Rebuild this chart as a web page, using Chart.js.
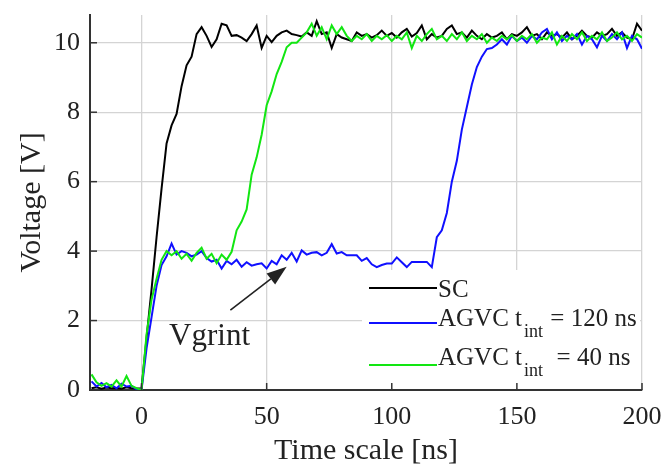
<!DOCTYPE html>
<html>
<head>
<meta charset="utf-8">
<script src="https://cdn.jsdelivr.net/npm/chart.js@4.4.1/dist/chart.umd.min.js"></script>
<style>
  html, body { margin: 0; padding: 0; background: #fff; }
</style>
</head>
<body>
<canvas id="grafico" width="665" height="469"></canvas>
<script>
// Tempo em ns (passo de 2 ns)
const tempo = [
  -20, -18, -16, -14, -12, -10, -8, -6, -4, -2,
  0, 2, 4, 6, 8, 10, 12, 14, 16, 18,
  20, 22, 24, 26, 28, 30, 32, 34, 36, 38,
  40, 42, 44, 46, 48, 50, 52, 54, 56, 58,
  60, 62, 64, 66, 68, 70, 72, 74, 76, 78,
  80, 82, 84, 86, 88, 90, 92, 94, 96, 98,
  100, 102, 104, 106, 108, 110, 112, 114, 116, 118,
  120, 122, 124, 126, 128, 130, 132, 134, 136, 138,
  140, 142, 144, 146, 148, 150, 152, 154, 156, 158,
  160, 162, 164, 166, 168, 170, 172, 174, 176, 178,
  180, 182, 184, 186, 188, 190, 192, 194, 196, 198,
  200
];

// Tensões [V]
const sc = [
  0.05, 0.08, 0.04, 0.07, 0.05, 0.06, 0.04, 0.08, 0.05, 0.04,
  0.05, 1.5, 2.9, 4.4, 5.8, 7.1, 7.62, 7.95, 8.75, 9.35,
  9.6, 10.25, 10.45, 10.2, 9.88, 10.1, 10.55, 10.5, 10.2, 10.22,
  10.15, 10.05, 10.25, 10.5, 9.85, 10.2, 10.02, 10.2, 10.3, 10.35,
  10.25, 10.22, 10.18, 10.3, 10.2, 10.62, 10.25, 10.3, 9.85, 10.25,
  10.15, 10.1, 10.05, 10.3, 10.2, 10.25, 10.15, 10.22, 10.35, 10.2,
  10.28, 10.15, 10.3, 10.4, 10.18, 10.28, 10.5, 10.1, 10.25, 10.15,
  10.2, 10.4, 10.5, 10.25, 10.3, 10.15, 10.35, 10.2, 10.1, 10.25,
  10.15, 10.2, 10.3, 10.1, 10.25, 10.2, 10.3, 10.45, 10.2, 10.25,
  10.1, 10.3, 10.2, 10.25, 10.15, 10.3, 10.1, 10.2, 10.35, 10.2,
  10.15, 10.3, 10.2, 10.25, 10.4, 10.2, 10.3, 10.15, 10.1, 10.55,
  10.35
];

const agvc120 = [
  0.25, 0.1, 0.2, 0.08, 0.15, 0.05, 0.18, 0.1, 0.12, 0.02,
  0.0, 1.2, 2.1, 3.0, 3.6, 3.85, 4.22, 3.9, 4.0, 3.95,
  3.85, 3.9, 4.0, 3.8, 3.7, 3.75, 3.5, 3.72, 3.62, 3.75,
  3.55, 3.68, 3.58, 3.62, 3.65, 3.5, 3.72, 3.62, 3.88, 3.75,
  3.95, 3.7, 4.02, 3.9, 3.95, 3.97, 3.88, 3.95, 4.2, 3.93,
  3.97, 3.88, 3.88, 3.88, 3.72, 3.8, 3.62, 3.54, 3.6, 3.64,
  3.64, 3.82, 3.68, 3.54, 3.69, 3.69, 3.69, 3.69, 3.54, 4.4,
  4.6, 5.1, 6.0, 6.6, 7.5, 8.15, 8.8, 9.3, 9.6, 9.82,
  9.85, 9.95, 10.1, 9.95, 10.2, 10.05, 10.15, 10.0, 10.2, 10.1,
  10.3, 10.4, 10.1, 10.3, 10.05, 10.2, 10.1, 10.25, 9.95, 10.2,
  10.1, 9.87, 10.2, 10.05, 10.25, 10.1, 10.3, 9.85, 10.2, 10.1,
  9.83
];

const agvc40 = [
  0.45, 0.22, 0.12, 0.2, 0.1, 0.28, 0.1, 0.4, 0.12, 0.05,
  0.0, 1.6, 2.6, 3.2, 3.75, 4.0, 3.88, 4.0, 3.78, 3.92,
  3.72, 3.95, 4.1, 3.78, 3.92, 3.65, 3.9, 3.75, 3.98, 4.6,
  4.85, 5.2, 6.2, 6.7, 7.35, 8.2, 8.6, 9.1, 9.45, 9.87,
  10.0, 10.0, 10.15, 10.3, 10.55, 10.2, 10.45, 10.1, 10.5, 10.25,
  10.45, 10.2, 10.05, 10.2, 10.1, 10.25, 10.05, 10.2, 10.1, 10.22,
  10.05, 10.2, 10.1, 10.3, 9.85, 10.2, 10.05, 10.25, 10.4, 10.1,
  10.2, 10.05, 10.25, 10.1, 10.3, 10.05, 10.2, 10.1, 10.25, 10.0,
  10.15, 10.05, 10.2, 10.1, 10.22, 10.05, 10.2, 10.1, 10.25, 10.0,
  10.15, 10.1, 10.3, 9.95, 10.2, 10.05, 10.25, 10.1, 10.3, 10.05,
  10.2, 10.1, 10.3, 10.05, 10.15, 10.3, 10.1, 10.2, 10.05, 10.25,
  10.15
];

const nomes = ['SC', 'AGVC t_{int} = 120 ns', 'AGVC t_{int}  = 40 ns'];
const ticksX = [0, 50, 100, 150, 200];
const ticksY = [0, 2, 4, 6, 8, 10];

const cores = ['#000000', '#1010ff', '#12e612'];
const serif = '"Liberation Serif", "Times New Roman", serif';
const corTexto = '#222222';

const pares = vals => tempo.map((t, i) => ({ x: t, y: vals[i] }));

// Marcas internas, legenda com subscrito e a seta "Vgrint"
const moldura = {
    id: 'moldura',
    afterDatasetsDraw(chart) {
        const { ctx, chartArea: a, scales: { x, y } } = chart;
        ctx.save();

        // caixa da legenda
        const bx = a.right - 280, by = a.bottom - 120;
        ctx.fillStyle = '#ffffff';
        ctx.fillRect(bx, by, a.right - 2 - bx, a.bottom - 2 - by);
        const linhaY = [a.bottom - 102, a.bottom - 67, a.bottom - 25];
        const textoY = [a.bottom - 100, a.bottom - 71, a.bottom - 32];
        nomes.forEach((nome, i) => {
            ctx.strokeStyle = cores[i];
            ctx.lineWidth = 2;
            ctx.beginPath();
            ctx.moveTo(bx + 7, linhaY[i]);
            ctx.lineTo(bx + 75, linhaY[i]);
            ctx.stroke();

            ctx.fillStyle = corTexto;
            ctx.textAlign = 'left';
            ctx.textBaseline = 'middle';
            ctx.font = `25px ${serif}`;
            let tx = bx + 76;
            const m = nome.match(/^(.*)_\{(.*?)\}(.*)$/);
            if (!m) {
                ctx.fillText(nome, tx, textoY[i]);
                return;
            }
            ctx.fillText(m[1], tx, textoY[i]);
            tx += ctx.measureText(m[1]).width + 2;
            ctx.font = `18px ${serif}`;
            ctx.fillText(m[2], tx, textoY[i] + 13);
            tx += ctx.measureText(m[2]).width + 1;
            ctx.font = `25px ${serif}`;
            ctx.fillText(m[3], tx, textoY[i]);
        });

        // marcas dos eixos para dentro
        ctx.strokeStyle = '#333';
        ctx.lineWidth = 1.5;
        ticksX.forEach(v => {
            const px = x.getPixelForValue(v);
            ctx.beginPath();
            ctx.moveTo(px, a.bottom);
            ctx.lineTo(px, a.bottom - 7);
            ctx.stroke();
        });
        ticksY.forEach(v => {
            const py = y.getPixelForValue(v);
            ctx.beginPath();
            ctx.moveTo(a.left, py);
            ctx.lineTo(a.left + 7, py);
            ctx.stroke();
        });

        // anotação
        ctx.fillStyle = corTexto;
        ctx.font = `31px ${serif}`;
        ctx.textAlign = 'left';
        ctx.textBaseline = 'alphabetic';
        ctx.fillText('Vgrint', x.getPixelForValue(11), y.getPixelForValue(1.3));

        const x0 = x.getPixelForValue(35.5), y0 = y.getPixelForValue(2.3);
        const x1 = x.getPixelForValue(58), y1 = y.getPixelForValue(3.55);
        const ang = Math.atan2(y1 - y0, x1 - x0);
        const cab = 20, larg = 7;
        const xb = x1 - cab * Math.cos(ang), yb = y1 - cab * Math.sin(ang);
        ctx.strokeStyle = corTexto;
        ctx.lineWidth = 1.6;
        ctx.beginPath();
        ctx.moveTo(x0, y0);
        ctx.lineTo(xb, yb);
        ctx.stroke();
        ctx.beginPath();
        ctx.moveTo(x1, y1);
        ctx.lineTo(xb - larg * Math.sin(ang), yb + larg * Math.cos(ang));
        ctx.lineTo(xb + larg * Math.sin(ang), yb - larg * Math.cos(ang));
        ctx.closePath();
        ctx.fill();

        ctx.restore();
    }
};

new Chart(document.getElementById('grafico'), {
    type: 'line',
    data: {
        datasets: [
            { label: nomes[0], data: pares(sc), borderColor: cores[0], order: 3 },
            { label: nomes[1], data: pares(agvc120), borderColor: cores[1], order: 2 },
            { label: nomes[2], data: pares(agvc40), borderColor: cores[2], order: 1 }
        ]
    },
    options: {
        responsive: false,
        animation: false,
        devicePixelRatio: 1,
        layout: { padding: { top: 15, right: 23, left: 0, bottom: 0 } },
        elements: {
            point: { radius: 0 },
            line: { borderWidth: 2, tension: 0, fill: false }
        },
        plugins: { legend: { display: false }, tooltip: { enabled: false } },
        scales: {
            x: {
                type: 'linear',
                min: -20.6,
                max: 200,
                afterBuildTicks: s => { s.ticks = ticksX.map(v => ({ value: v })); },
                afterFit: s => { s.height = 79; s.paddingLeft = 0; s.paddingRight = 0; },
                grid: { color: '#d4d4d4', lineWidth: 1.3, drawTicks: false },
                border: { color: '#333', width: 2 },
                ticks: { font: { family: serif, size: 26 }, color: corTexto, padding: 12, maxRotation: 0 },
                title: {
                    display: true, text: 'Time scale [ns]', color: corTexto,
                    font: { family: serif, size: 30 }, padding: { top: 0, bottom: 0 }
                }
            },
            y: {
                type: 'linear',
                min: 0,
                max: 10.8,
                afterBuildTicks: s => { s.ticks = ticksY.map(v => ({ value: v })); },
                afterFit: s => { s.width = 90; s.paddingTop = 0; s.paddingBottom = 0; },
                grid: { color: '#d4d4d4', lineWidth: 1.3, drawTicks: false },
                border: { color: '#333', width: 2 },
                ticks: { font: { family: serif, size: 26 }, color: corTexto, padding: 10 },
                title: {
                    display: true, text: 'Voltage [V]', color: corTexto,
                    font: { family: serif, size: 30 }, padding: { top: 14, bottom: 0 }
                }
            }
        }
    },
    plugins: [moldura]
});
</script>
</body>
</html>
